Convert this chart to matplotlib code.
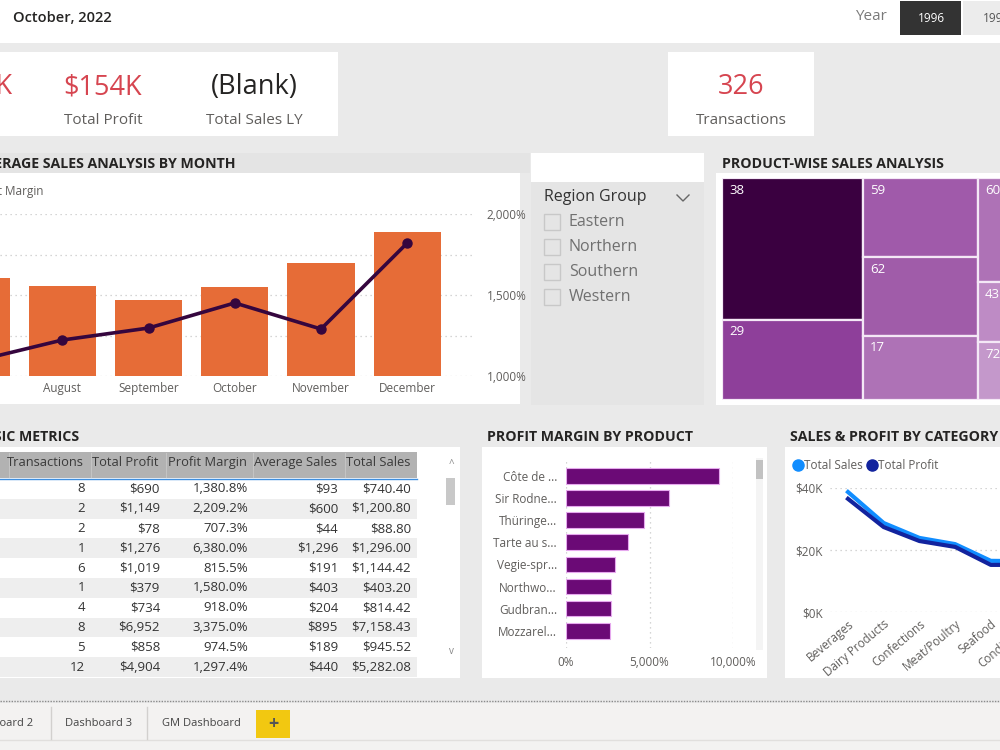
import matplotlib.pyplot as plt
from matplotlib.patches import Rectangle
from matplotlib.lines import Line2D

# ---- data ----
months = ["July", "August", "September", "October", "November", "December"]
avg_sales = [482, 446, 375, 440, 558, 713]
profit_margin = [1093, 1222, 1296, 1451, 1290, 1821]

regions = ["Eastern", "Northern", "Southern", "Western"]

tree_ids = ["38", "29", "59", "62", "17", "60", "43", "72"]
tree_sales = [20020, 11360, 9130, 9010, 7370, 8240, 4720, 4560]
tree_columns = [[0, 1], [2, 3, 4], [5, 6, 7]]
tree_colors = ["#3A0040", "#8E3F9A", "#A05AAA", "#A05CA9", "#AE72B6",
               "#AE72B6", "#BE8BC5", "#C498CB"]

transactions = [8, 2, 2, 1, 6, 1, 4, 8, 5, 12]
total_profit = [690, 1149, 78, 1276, 1019, 379, 734, 6952, 858, 4904]
margin_pct = [1380.8, 2209.2, 707.3, 6380.0, 815.5, 1580.0, 918.0, 3375.0, 974.5, 1297.4]
average_sales = [93, 600, 44, 1296, 191, 403, 204, 895, 189, 440]
total_sales = [740.40, 1200.80, 88.80, 1296.00, 1144.42, 403.20, 814.42, 7158.43, 945.52, 5282.08]

products = ["Côte de ...", "Sir Rodne...", "Thüringe...", "Tarte au s...",
            "Vegie-spr...", "Northwo...", "Gudbran...", "Mozzarel..."]
product_margin = [9140, 6160, 4700, 3700, 2940, 2690, 2680, 2620]

categories = ["Beverages", "Dairy Products", "Confections", "Meat/Poultry",
              "Seafood", "Condiments"]
cat_sales = [38700, 28700, 23900, 21900, 16500, 16400]
cat_profit = [36500, 27400, 22900, 21000, 15200, 15200]

# ---- helpers: pixel coords (origin top-left) -> figure fraction ----
W, H = 1000, 750
BG = "#EAEAEA"
GREY = "#605E5C"
DARK = "#252423"
RED = "#D64550"
FONT = "Open Sans"


def fx(x):
    return x / W


def fy(y):
    return 1 - y / H


def box(fig, x0, y0, x1, y1, color, z=-1, **kw):
    fig.add_artist(Rectangle((fx(x0), fy(y1)), (x1 - x0) / W, (y1 - y0) / H,
                             transform=fig.transFigure, facecolor=color,
                             edgecolor=kw.pop("edgecolor", "none"), zorder=z, **kw))


def axbox(x0, y0, x1, y1):
    return [fx(x0), fy(y1), (x1 - x0) / W, (y1 - y0) / H]


def txt(fig, x, y, s, **kw):
    kw.setdefault("family", FONT)
    kw.setdefault("va", "center")
    fig.text(fx(x), fy(y), s, **kw)


plt.rcParams["font.family"] = [FONT, "DejaVu Sans"]
fig = plt.figure(figsize=(10, 7.5), dpi=100)
fig.patch.set_facecolor(BG)

# ---- top bar ----
box(fig, 0, 0, 1000, 43, "white")
txt(fig, 13, 18, "October, 2022", size=10.5, color=DARK, weight="semibold")
txt(fig, 855, 16, "Year", size=11, color="#7A7A7A")
box(fig, 900, 1, 961, 35, "#333333")
txt(fig, 931, 19, "1996", size=8.5, color="white", ha="center")
box(fig, 963, 1, 1000, 35, "#ECECEC")
txt(fig, 983, 19, "1997", size=8.5, color="#555555", ha="left")

# ---- KPI cards ----
box(fig, 0, 52, 338, 136, "white")
txt(fig, 12, 87, "$1,354K", size=19.5, color=RED, ha="right")
txt(fig, 103, 87, "$154K", size=19.5, color=RED, ha="center")
txt(fig, 103, 120, "Total Profit", size=11, color=GREY, ha="center")
txt(fig, 254, 87, "(Blank)", size=19.5, color=DARK, ha="center")
txt(fig, 254, 120, "Total Sales LY", size=11, color=GREY, ha="center")
box(fig, 668, 52, 814, 136, "white")
txt(fig, 741, 87, "326", size=19.5, color=RED, ha="center")
txt(fig, 741, 120, "Transactions", size=11, color=GREY, ha="center")

# ---- panel titles & backgrounds ----
title_kw = dict(size=10.2, color=DARK, weight="bold")
box(fig, 0, 153, 530, 173, "#E4E4E4")
txt(fig, 235, 164, "AVERAGE SALES ANALYSIS BY MONTH", ha="right", **title_kw)
box(fig, 0, 173, 520, 404, "white")
box(fig, 531, 153, 704, 182, "white")
box(fig, 531, 182, 704, 405, "#E5E5E5")
txt(fig, 722, 164, "PRODUCT-WISE SALES ANALYSIS", **title_kw)
box(fig, 716, 173, 1000, 405, "white")
txt(fig, 79, 437, "BASIC METRICS", ha="right", **title_kw)
box(fig, 0, 447, 460, 678, "white")
txt(fig, 487, 437, "PROFIT MARGIN BY PRODUCT", **title_kw)
box(fig, 482, 447, 767, 678, "white")
txt(fig, 790, 437, "SALES & PROFIT BY CATEGORY", **title_kw)
box(fig, 785, 447, 1000, 678, "white")

# ---- monthly combo chart ----
ax = fig.add_axes(axbox(0, 214, 475, 376))
ax.patch.set_alpha(0)
pos = list(range(len(months)))
ax.bar(pos, avg_sales, width=0.777, color="#E66C37", zorder=2)
ax.set_ylim(0, 800)
ax.set_yticks([0, 200, 400, 600, 800])
ax.set_yticklabels([])
ax.set_xticks(pos)
ax.set_xticklabels(months, fontsize=8.5, color=GREY)
ax.tick_params(length=0, pad=4, left=False)
ax.grid(axis="y", color="#C8C8C8", linestyle=(0, (1, 3)), linewidth=0.9)
for s in ax.spines.values():
    s.set_visible(False)
ax2 = ax.twinx()
ax2.plot(pos, profit_margin, color="#35063E", lw=2.6, marker="o", ms=6.5, zorder=3)
ax2.set_ylim(1000, 2000)
ax2.set_yticks([1000, 1500, 2000])
ax2.set_yticklabels(["1,000%", "1,500%", "2,000%"], fontsize=8.5, color=GREY)
ax2.tick_params(length=0, pad=8.5)
for s in ax2.spines.values():
    s.set_visible(False)
ax.set_xlim(24 / 86.25, (475 + 24) / 86.25)
txt(fig, 43, 192, "Profit Margin", size=8.5, color=GREY, ha="right")

# ---- region slicer ----
txt(fig, 544, 197, "Region Group", size=11.5, color="#333333")
fig.add_artist(Line2D([fx(677), fx(683), fx(689)], [fy(195), fy(201), fy(195)],
                      transform=fig.transFigure, color="#666666", lw=1))
for i, r in enumerate(regions):
    y = 222 + 25 * i
    box(fig, 544, y - 8, 560, y + 8, "#E5E5E5", z=1, edgecolor="#C8C8C8", lw=1)
    txt(fig, 569, y, r, size=11.5, color="#707070")

# ---- treemap ----
axt = fig.add_axes(axbox(722, 178, 1057, 400))
axt.set_xlim(0, 1)
axt.set_ylim(1, 0)
axt.axis("off")
total = sum(tree_sales)
x0 = 0
for col in tree_columns:
    csum = sum(tree_sales[i] for i in col)
    w = csum / total
    y0 = 0
    for i in col:
        h = tree_sales[i] / csum
        axt.add_patch(Rectangle((x0, y0), w, h, facecolor=tree_colors[i],
                                edgecolor="#F4E8F6", lw=1.6))
        axt.annotate(tree_ids[i], (x0, y0), xytext=(5, -4), textcoords="offset points",
                     va="top", ha="left", color="white", fontsize=9.5)
        y0 += h
    x0 += w

# ---- table ----
col_right = [85, 160, 248, 338, 411]
headers = ["Transactions", "Total Profit", "Profit Margin", "Average Sales", "Total Sales"]
box(fig, 0, 452, 417, 478, "#B2B2B2")
for xd in [9, 91, 166, 253, 345]:
    fig.add_artist(Line2D([fx(xd)] * 2, [fy(453), fy(477)], transform=fig.transFigure,
                          color="#C4C4C4", lw=0.8))
for xr, hdr in zip(col_right, headers):
    txt(fig, xr - 1, 463, hdr, size=9.3, color="#3A3A3A", ha="right")
fig.add_artist(Line2D([0, fx(417)], [fy(478.5)] * 2, transform=fig.transFigure,
                      color="#3E8EDE", lw=1))
rows = zip(transactions, total_profit, margin_pct, average_sales, total_sales)
for i, (t, p, m, a, s) in enumerate(rows):
    yc = 489 + 19.78 * i
    if i % 2 == 1:
        box(fig, 0, yc - 9.9, 417, yc + 9.9, "#EEEEEE")
    vals = [f"{t}", f"${p:,.0f}", f"{m:,.1f}%", f"${a:,.0f}", f"${s:,.2f}"]
    for xr, v in zip(col_right, vals):
        txt(fig, xr, yc, v, size=9.5, color="#333333", ha="right")
box(fig, 446, 478, 455, 505, "#C8C8C8", z=1)
txt(fig, 451, 464, "^", size=7, color="#888888", ha="center")
txt(fig, 451, 651, "v", size=7, color="#888888", ha="center")

# ---- profit margin by product ----
axp = fig.add_axes(axbox(566, 460, 733, 648))
axp.patch.set_alpha(0)
ypos = list(range(len(products)))
axp.barh(ypos, product_margin, height=0.71, color="#6B0A76",
         edgecolor="#E6A8EE", lw=0.8, zorder=2)
axp.set_xlim(0, 10000)
axp.set_ylim((648 - 476) / 22.1, -(476 - 460) / 22.1)
axp.set_yticks(ypos)
axp.set_yticklabels(products, fontsize=8.5, color=GREY)
axp.set_xticks([0, 5000, 10000])
axp.set_xticklabels(["0%", "5,000%", "10,000%"], fontsize=8.5, color=GREY)
axp.tick_params(length=0, pad=6.5)
axp.tick_params(axis="x", pad=6)
axp.grid(axis="x", color="#C8C8C8", linestyle=(0, (1, 3)), linewidth=0.9)
for s in axp.spines.values():
    s.set_visible(False)
box(fig, 756, 458, 763, 650, "#F4F4F4", z=1)
box(fig, 756, 460, 763, 479, "#C2C2C2", z=1)

# ---- sales & profit by category ----
axc = fig.add_axes(axbox(830, 488, 1080, 612))
axc.patch.set_alpha(0)
cpos = list(range(len(categories)))
axc.plot(cpos, cat_sales, color="#118DFF", lw=3, solid_joinstyle="round")
axc.plot(cpos, cat_profit, color="#12239E", lw=3, solid_joinstyle="round")
axc.set_ylim(0, 40000)
axc.set_xlim(-18 / 35.7, (1080 - 848) / 35.7)
axc.set_yticks([0, 20000, 40000])
axc.set_yticklabels(["$0K", "$20K", "$40K"], fontsize=8.5, color=GREY)
axc.set_xticks(cpos)
axc.set_xticklabels(categories, fontsize=8.5, color=GREY, rotation=40,
                    ha="right", rotation_mode="anchor")
axc.tick_params(length=0, pad=5)
axc.tick_params(axis="x", pad=4)
axc.grid(axis="y", color="#C8C8C8", linestyle=(0, (1, 3)), linewidth=0.9)
for s in axc.spines.values():
    s.set_visible(False)
handles = [Line2D([], [], marker="o", ls="", color="#118DFF", ms=8),
           Line2D([], [], marker="o", ls="", color="#12239E", ms=8)]
fig.legend(handles, ["Total Sales", "Total Profit"], loc="center left",
           bbox_to_anchor=(fx(787), fy(466)), ncol=2, frameon=False,
           fontsize=8.5, handletextpad=0.0, columnspacing=0.3,
           handlelength=1.0, borderaxespad=0, labelcolor=GREY)

# ---- bottom page tabs ----
fig.add_artist(Line2D([0, 1], [fy(701)] * 2, transform=fig.transFigure,
                      color="#8A8A8A", lw=1, linestyle=(0, (1, 1))))
box(fig, 0, 703, 1000, 750, "#F3F2F1")
fig.add_artist(Line2D([0, 1], [fy(739.5)] * 2, transform=fig.transFigure,
                      color="#E1DFDD", lw=1))
for xd in [51, 147]:
    fig.add_artist(Line2D([fx(xd)] * 2, [fy(707), fy(739)], transform=fig.transFigure,
                          color="#D2D0CE", lw=1))
txt(fig, 33, 724, "Dashboard 2", size=8, color="#444444", ha="right")
txt(fig, 99, 724, "Dashboard 3", size=8, color="#444444", ha="center")
txt(fig, 201, 724, "GM Dashboard", size=8, color="#444444", ha="center")
box(fig, 256, 710, 290, 738, "#F2C811", z=1)
txt(fig, 273, 724, "+", size=13, color="#555555", ha="center", weight="bold")

fig.savefig("out.png", dpi=100, facecolor=fig.get_facecolor())
